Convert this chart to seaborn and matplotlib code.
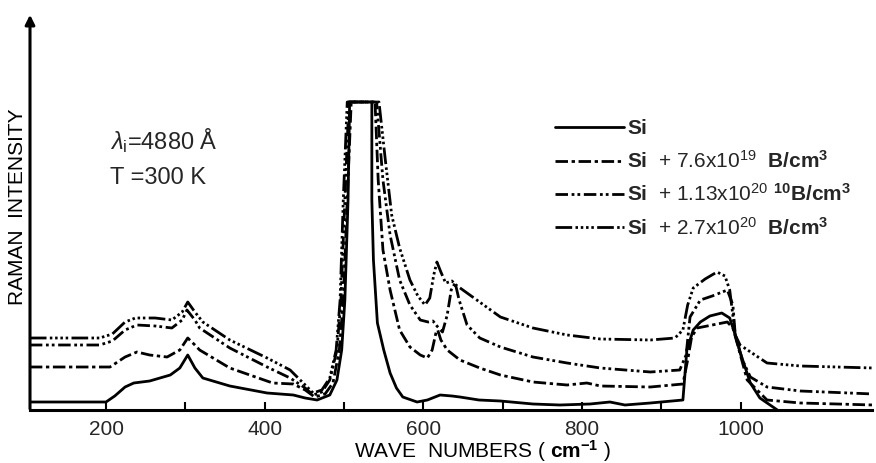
import matplotlib
matplotlib.use("Agg")
import matplotlib.pyplot as plt
import seaborn as sns
import pandas as pd

# ---- data (wave number cm^-1, Raman intensity in arbitrary units) ----
si_x = [104, 200, 211, 224, 235, 255, 281, 293, 303, 312, 322, 356, 403, 436, 451, 466, 482, 491,
        497, 501, 505, 507, 535, 535, 537, 542, 550, 558, 566, 574, 592, 605, 621, 636, 646, 670,
        697, 738, 772, 810, 835, 854, 886, 927, 932, 940, 949, 961, 976, 986, 993, 999, 1012, 1024, 1046]
si_y = [8, 8, 14, 23, 27, 29, 35, 42, 55, 42, 32, 24, 17, 15, 12, 10, 15, 30,
        60, 110, 210, 308, 308, 210, 150, 87, 60, 37, 22, 13, 8, 10, 15, 14, 13, 10,
        9, 6, 5, 6, 8, 5, 7, 10, 60, 80, 88, 94, 97, 92, 75, 58, 27, 12, 0]

b76_x = [104, 205, 224, 239, 255, 277, 293, 303, 312, 318, 356, 410, 436, 451, 463, 476, 486, 494,
         499, 504, 509, 539, 543, 549, 558, 570, 583, 596, 605, 611, 616, 618, 622, 630, 646, 671,
         697, 738, 781, 806, 823, 886, 927, 933, 938, 945, 964, 983, 990, 996, 1008, 1033, 1075, 1167]
b76_y = [43, 43, 53, 58, 55, 53, 60, 72, 65, 60, 42, 27, 26, 20, 13, 16, 27, 60,
         110, 210, 308, 308, 230, 160, 120, 80, 63, 55, 52, 60, 78, 80, 70, 60, 50, 42,
         35, 28, 25, 27, 24, 23, 26, 50, 73, 82, 85, 88, 82, 65, 30, 10, 7, 5]

b113_x = [104, 192, 208, 224, 239, 262, 283, 296, 302, 312, 318, 356, 403, 432, 451, 461, 472, 482,
          491, 496, 501, 506, 541, 549, 558, 570, 583, 596, 606, 612, 617, 624, 630, 635, 640, 645,
          655, 671, 697, 738, 781, 823, 886, 923, 931, 936, 949, 964, 983, 990, 993, 1002, 1012,
          1033, 1075, 1167]
b113_y = [65, 65, 69, 80, 85, 84, 82, 90, 100, 90, 82, 62, 43, 32, 22, 15, 18, 30,
          60, 110, 210, 308, 308, 230, 175, 130, 105, 90, 88, 89, 84, 78, 95, 120, 127, 110,
          85, 72, 63, 53, 47, 42, 38, 40, 55, 93, 110, 114, 120, 105, 75, 50, 33,
          23, 19, 16]

b27_x = [104, 192, 208, 224, 237, 262, 283, 296, 303, 312, 322, 356, 403, 432, 451, 461, 472, 482,
         490, 495, 499, 504, 544, 552, 560, 570, 583, 593, 602, 608, 613, 617, 622, 628, 636, 641,
         655, 697, 738, 781, 823, 886, 917, 927, 933, 940, 955, 970, 980, 986, 993, 999, 1033,
         1075, 1167]
b27_y = [72, 72, 76, 88, 92, 92, 90, 98, 108, 98, 88, 70, 52, 40, 25, 17, 20, 32,
         60, 110, 210, 308, 308, 250, 195, 162, 130, 114, 105, 112, 135, 148, 138, 127, 129, 125,
         117, 93, 82, 75, 71, 70, 72, 80, 105, 122, 131, 138, 134, 120, 75, 65, 47,
         44, 42]

labels = [r"$\mathbf{Si}$",
          r"$\mathbf{Si}$  + 7.6x10$^{19}$  $\mathbf{B/cm^3}$",
          r"$\mathbf{Si}$  + 1.13x10$^{20}$ $^{\mathbf{10}}\mathbf{B/cm^3}$",
          r"$\mathbf{Si}$  + 2.7x10$^{20}$  $\mathbf{B/cm^3}$"]
xticks_major = [200, 400, 600, 800, 1000]
xticks_minor = [300, 500, 700, 900]

series = [(si_x, si_y), (b76_x, b76_y), (b113_x, b113_y), (b27_x, b27_y)]
styles = ["-",
          (0, (4.5, 1.3, 1.2, 1.3)),
          (0, (4.5, 1.3, 1.0, 1.1, 1.0, 1.3)),
          (0, (6.0, 1.2, 0.9, 1.0, 0.9, 1.0, 0.9, 1.0, 0.9, 1.2))]

sns.set_theme(style="white")
plt.rcParams["font.family"] = ["Liberation Sans", "DejaVu Sans"]
plt.rcParams["mathtext.fontset"] = "custom"
plt.rcParams["mathtext.rm"] = "Liberation Sans"
plt.rcParams["mathtext.it"] = "Liberation Sans:italic"
plt.rcParams["mathtext.bf"] = "Liberation Sans:bold"

fig = plt.figure(figsize=(8.76, 4.63), dpi=100)
ax = fig.add_axes([30 / 876, 53 / 463, 842 / 876, 398 / 463])

for (xs, ys), lab, ls in zip(series, labels, styles):
    df = pd.DataFrame({"x": xs, "y": ys})
    sns.lineplot(data=df, x="x", y="y", ax=ax, sort=False, estimator=None,
                 color="black", linewidth=2.0, linestyle=ls, label=lab)

ax.set_xlim(104.2, 1165.3)
ax.set_ylim(0, 398)
ax.set_xticks(xticks_major)
ax.set_xticklabels([str(v) for v in xticks_major], fontsize=15)
ax.set_xticks(xticks_minor, minor=True)
ax.tick_params(axis="x", which="both", direction="in", length=6, width=1.5,
               color="black", pad=7, bottom=True)
ax.set_yticks([])

for s in ["top", "right", "left"]:
    ax.spines[s].set_visible(False)
ax.spines["bottom"].set_linewidth(2.2)
ax.spines["bottom"].set_color("black")

ax.annotate("", xy=(0, 1.0), xytext=(0, -0.004), xycoords="axes fraction",
            arrowprops=dict(arrowstyle="-|>", lw=2.2, color="black", mutation_scale=14))

ax.set_xlabel(r"WAVE  NUMBERS ( $\mathbf{cm^{-1}}$ )", fontsize=15, color="black")
ax.xaxis.set_label_coords(0.538, -0.07)
ax.set_ylabel("RAMAN  INTENSITY", fontsize=15, color="black")
ax.yaxis.set_label_coords(-0.004, 0.51)

ax.text(0.095, 0.676, r"$\lambda_{\mathrm{i}}$=4880 Å", transform=ax.transAxes,
        fontsize=17, va="center", ha="left")
ax.text(0.095, 0.583, "T =300 K", transform=ax.transAxes,
        fontsize=17, va="center", ha="left")

leg = ax.legend(loc="upper left", bbox_to_anchor=(0.6235, 0.73), frameon=False,
                fontsize=15, handlelength=3.3, handletextpad=0.15, labelspacing=0.55,
                borderpad=0, borderaxespad=0)
for line in leg.get_lines():
    line.set_linewidth(2.0)

fig.savefig("out.png", dpi=100)
